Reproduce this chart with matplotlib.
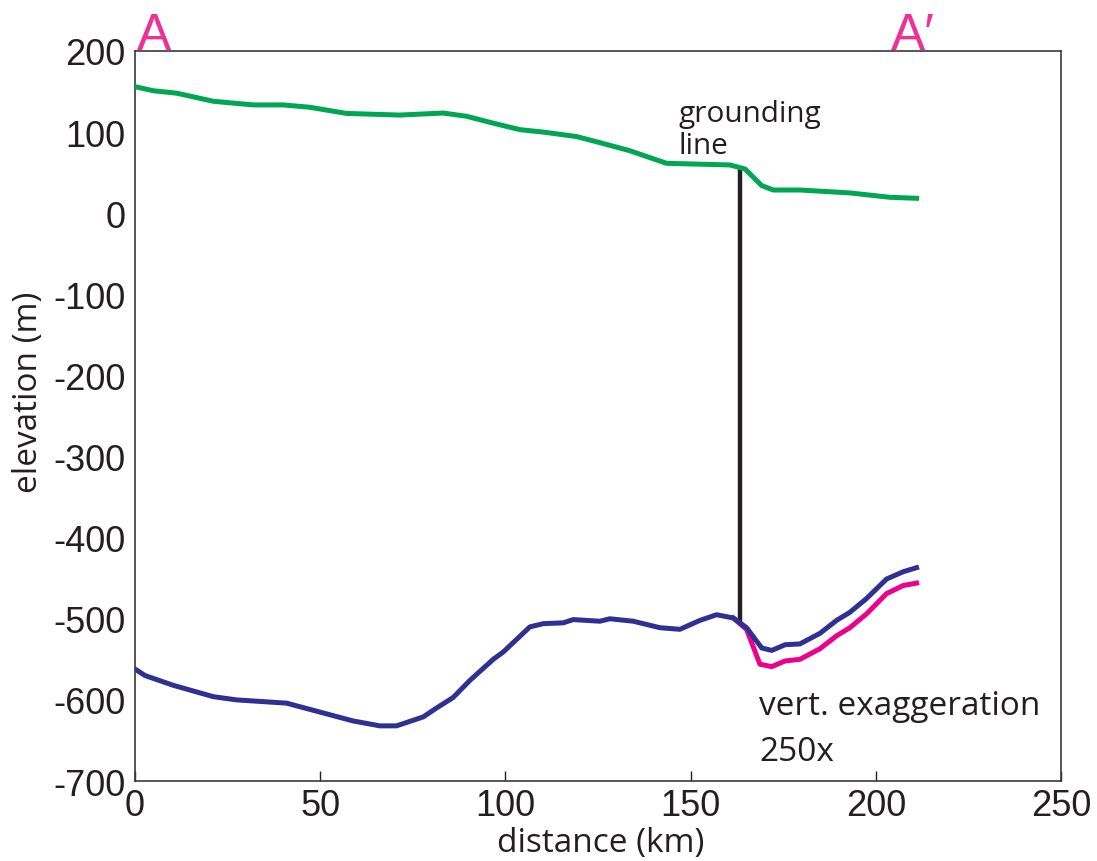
import matplotlib
matplotlib.use("Agg")
import matplotlib.pyplot as plt

# surface elevation (green)
surf_km = [0, 4.9, 11.2, 21.1, 31.9, 40, 47.2, 57.1, 71.5, 83.2, 89.5, 96.7, 103.9,
           110.2, 119.2, 125.5, 133.6, 143.5, 160.6, 164.7, 169.2, 172.3, 179.5,
           193, 203.8, 211]
surf_m = [156, 151, 148, 138, 133.5, 133.5, 130.6, 123, 121, 123.5, 119.5, 111, 103,
          100, 94.5, 87, 77, 61.5, 59.5, 54.5, 34, 28.6, 28.6, 25, 19.6, 18.4]

# ice bottom / bed (blue)
bed_km = [0, 2.7, 10.3, 21.1, 27.4, 40.9, 49.9, 58.9, 66.1, 70.6, 77.8, 81.4, 85.9,
          90.4, 96.7, 99.4, 106.6, 110.2, 115.6, 118.3, 125.5, 128.2, 134.5, 141.7,
          147.1, 152.5, 157, 161.5, 165.1, 169.2, 171.9, 175.5, 179.5, 184.9, 189.4,
          193, 197.5, 202.9, 207.4, 211]
bed_m = [-562, -570, -582, -596, -600, -604, -615, -626, -632, -632, -621, -610, -597,
         -576, -550, -541, -510, -506, -505, -501, -503, -500, -503, -511,
         -513, -502, -495, -499, -511, -536, -539, -532, -531, -518, -502,
         -492, -475, -451, -442, -437]

# seaward of grounding line (pink)
sea_km = [161.5, 165.1, 168.7, 171.9, 175.5, 179.5, 184.9, 189.4, 193, 197.5, 202.9,
          207.4, 211]
sea_m = [-499, -513, -556, -559, -552, -550, -537, -521, -511, -494, -469, -459, -456]

gl_km = 163.4
gl_top, gl_bot = 54, -504

xticks = [0, 50, 100, 150, 200, 250]
yticks = [200, 100, 0, -100, -200, -300, -400, -500, -600, -700]

ink = '#231F20'
tick_font = 'Liberation Sans'
text_font = 'Open Sans'

fig = plt.figure(figsize=(10.97, 8.62), dpi=100)
ax = fig.add_axes([0.1231, 0.0928, 0.8441, 0.8469])

ax.plot(sea_km, sea_m, color='#EC008C', lw=3.6, solid_joinstyle='round', zorder=3)
ax.plot(bed_km, bed_m, color='#2E3192', lw=3.6, solid_joinstyle='round', zorder=4)
ax.plot(surf_km, surf_m, color='#00A651', lw=3.6, solid_joinstyle='round', zorder=4)
ax.plot([gl_km, gl_km], [gl_top, gl_bot], color=ink, lw=3.2, zorder=2)

ax.set_xlim(0, 250)
ax.set_ylim(-700, 200)
ax.set_xticks(xticks)
ax.set_yticks(yticks)
ax.set_xticklabels([str(t) for t in xticks], fontsize=26, family=tick_font, color=ink)
ax.set_yticklabels([str(t) for t in yticks], fontsize=26, family=tick_font, color=ink)
ax.tick_params(axis='x', direction='in', length=7, width=1, pad=5, colors=ink)
ax.tick_params(axis='y', length=0, pad=7, colors=ink)
for s in ax.spines.values():
    s.set_color('#3a3a3a')
    s.set_linewidth(1.2)

# axis titles placed in figure pixels
fig.text(601 / 1097, 1 - 852 / 862, 'distance (km)', fontsize=24, family=text_font,
         color=ink, ha='center', va='baseline')
fig.text(29 / 1097, 1 - 392 / 862, 'elevation (m)', fontsize=24, family=text_font,
         color=ink, ha='center', va='center', rotation=90)

ax.text(146.6, 114, 'grounding', fontsize=21.4, family=text_font, color=ink,
        va='baseline', ha='left')
ax.text(146.6, 74, 'line', fontsize=21.4, family=text_font, color=ink,
        va='baseline', ha='left')
ax.text(168.5, -617, 'vert. exaggeration', fontsize=24, family=text_font, color=ink,
        va='baseline', ha='left')
ax.text(168.5, -674, '250x', fontsize=24, family=text_font, color=ink,
        va='baseline', ha='left')

ax.text(0.6, 202.5, 'A', fontsize=37, family=tick_font, color='#EC3296', va='baseline', ha='left')
ax.text(204, 202.5, "A\u2032", fontsize=37, family=tick_font, color='#EC3296', va='baseline', ha='left')

fig.savefig('out.png', dpi=100)
